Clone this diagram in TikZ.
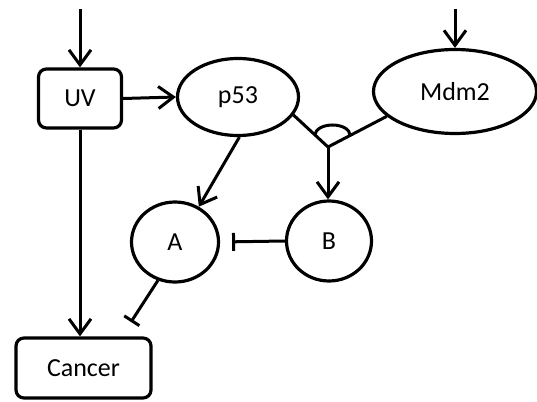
\documentclass[tikz,border=0pt]{standalone}
\usepackage{fontspec}
\setmainfont{Carlito}
\usetikzlibrary{arrows.meta,shapes.geometric}
\begin{document}
\begin{tikzpicture}[x=1pt,y=-1pt,
  every node/.style={font=\fontsize{26}{30}\selectfont, inner sep=0pt},
  boxnode/.style={draw, line width=3.2pt, rounded corners=8pt},
  ellnode/.style={draw, ellipse, line width=3.2pt},
  conn/.style={line width=3pt},
  act/.style={conn, -{Straight Barb[length=15pt,width=22pt,line width=3pt]}},
  inh/.style={conn, -{Bar[width=18pt,line width=3pt]}}]
\useasboundingbox (0,0) rectangle (537,401);
\node[boxnode, minimum width=83pt, minimum height=59pt] (UV) at (80,98.5) {UV};
\node[boxnode, minimum width=135pt, minimum height=60pt] (Cancer) at (83.5,368) {Cancer};
\node[ellnode, minimum width=121pt, minimum height=77pt] (p53) at (238,97) {p53};
\node[ellnode, minimum width=163pt, minimum height=84pt] (Mdm2) at (455,91.5) {Mdm2};
\node[ellnode, minimum width=87pt, minimum height=80pt] (A) at (175,242) {A};
\node[ellnode, minimum width=85pt, minimum height=80pt] (B) at (329,241) {B};
\coordinate (uvIn) at (80,9);
\coordinate (mdmIn) at (455,9);
\coordinate (J) at (328,147);
\coordinate (acEnd) at (131,322);
\draw[act] (uvIn) -- (UV.north);
\draw[act] (mdmIn) -- (Mdm2.north);
\draw[act] (UV.east) -- (p53.west);
\draw[act] (UV.south) -- (UV.south |- Cancer.north);
\draw[act] (p53.-88) -- (A.56);
\draw[conn] (p53.-18) -- (J) -- (Mdm2.200);
\draw[conn] (315,135) arc[start angle=180, end angle=0, x radius=17.5pt, y radius=10pt];
\draw[act] (J) -- (J |- B.north);
\draw[inh, shorten >=12pt] (B.west) -- (A.east);
\draw[inh] (A.-114) -- (acEnd);
\end{tikzpicture}
\end{document}
